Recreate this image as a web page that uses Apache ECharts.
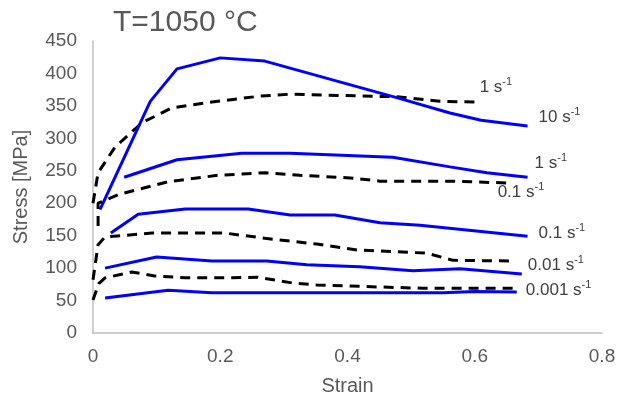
<!DOCTYPE html>
<html>
<head>
<meta charset="utf-8">
<script src="https://cdn.jsdelivr.net/npm/echarts@6/dist/echarts.min.js"></script>
<style>
  html, body { margin: 0; padding: 0; background: #fff; }
  #main { width: 619px; height: 401px; }
</style>
</head>
<body>
<div id="main"></div>
<script>
// 応力-ひずみ曲線 (T=1050 °C)
const chartTitle = 'T=1050 °C';
const xTicks = [0, 0.2, 0.4, 0.6, 0.8];

// 実線 (青)
const solid10 = [[0.011, 190], [0.09, 357], [0.132, 407], [0.2, 424], [0.27, 419], [0.48, 362], [0.561, 339], [0.61, 328], [0.683, 319]];
const solid1 = [[0.049, 240], [0.132, 267], [0.234, 277], [0.31, 277], [0.471, 271], [0.561, 256], [0.619, 247], [0.683, 240]];
const solid01 = [[0.028, 154], [0.071, 183], [0.145, 191], [0.244, 191], [0.31, 182], [0.38, 182], [0.451, 170], [0.514, 166], [0.683, 149]];
const solid001 = [[0.019, 100], [0.1, 117], [0.187, 111], [0.273, 111], [0.336, 105], [0.419, 102], [0.503, 96], [0.577, 99], [0.674, 91]];
const solid0001 = [[0.019, 54], [0.118, 66], [0.187, 62], [0.4, 62], [0.55, 62], [0.6, 64], [0.666, 63]];

// 破線 (黒)
const dashed1 = [[0.0, 200], [0.008, 247], [0.035, 287], [0.077, 324], [0.124, 347], [0.187, 356], [0.262, 365], [0.31, 368], [0.478, 364], [0.545, 357], [0.603, 356]];
const dashed01 = [[0.008, 165], [0.008, 200], [0.042, 214], [0.118, 233], [0.196, 243], [0.27, 247], [0.325, 243], [0.404, 239], [0.451, 234], [0.561, 234], [0.658, 231]];
const dashed001 = [[0.0, 82], [0.008, 136], [0.019, 148], [0.093, 154], [0.207, 154], [0.27, 146], [0.352, 137], [0.415, 128], [0.525, 123], [0.566, 112], [0.663, 111]];
const dashed0001 = [[0.0, 51], [0.009, 76], [0.019, 85], [0.061, 94], [0.097, 88], [0.145, 85], [0.207, 85], [0.259, 86], [0.314, 77], [0.352, 74], [0.446, 71], [0.518, 69], [0.663, 69]];

const chart = echarts.init(document.getElementById('main'));
const font = 'Liberation Sans, Arial, sans-serif';

function endLabel(rate, offset) {
  return {
    show: true,
    formatter: '{n|' + rate + ' s}{sup|-1}',
    offset: offset,
    distance: 0,
    align: 'left',
    rich: {
      n: { fontSize: 17, fontFamily: font, color: '#404040', lineHeight: 21 },
      sup: { fontSize: 11, fontFamily: font, color: '#404040', lineHeight: 21, verticalAlign: 'top' }
    }
  };
}

function blue(data, label) {
  return {
    type: 'line', data: data, symbol: 'none', silent: true,
    lineStyle: { color: '#0000ff', width: 3 },
    endLabel: label || { show: false }
  };
}
function black(data, label) {
  return {
    type: 'line', data: data, symbol: 'none', silent: true,
    lineStyle: { color: '#000', width: 3, type: [10, 7], cap: 'butt' },
    endLabel: label || { show: false }
  };
}

chart.setOption({
  animation: false,
  title: {
    text: chartTitle, left: 108, top: 3,
    textStyle: { fontSize: 30, fontWeight: 'normal', color: '#595959', fontFamily: font }
  },
  grid: { left: 93, right: 17, top: 41, bottom: 68 },
  xAxis: {
    type: 'value', min: 0, max: 0.8, interval: 0.2,
    name: 'Strain', nameLocation: 'middle', nameGap: 43,
    nameTextStyle: { fontSize: 20, color: '#595959', fontFamily: font },
    axisLine: { lineStyle: { color: '#bfbfbf', width: 1.5 } },
    axisTick: { show: false },
    splitLine: { show: false },
    axisLabel: { fontSize: 19, color: '#595959', fontFamily: font, margin: 14,
      formatter: v => String(+v.toFixed(1)) }
  },
  yAxis: {
    type: 'value', min: 0, max: 450, interval: 50,
    name: 'Stress [MPa]', nameLocation: 'middle', nameGap: 62,
    nameTextStyle: { fontSize: 20, color: '#595959', fontFamily: font },
    axisLine: { show: true, lineStyle: { color: '#bfbfbf', width: 1.5 } },
    axisTick: { show: false },
    splitLine: { show: false },
    axisLabel: { fontSize: 19, color: '#595959', fontFamily: font, margin: 16 }
  },
  series: [
    black(dashed1, endLabel('1', [3, -15])),
    blue(solid10, endLabel('10', [11, -9])),
    blue(solid1, endLabel('1', [7, -14])),
    black(dashed01, endLabel('0.1', [-14, 9])),
    blue(solid01, endLabel('0.1', [11, -3])),
    black(dashed001, endLabel('0.01', [13, 4])),
    blue(solid001),
    black(dashed0001, endLabel('0.001', [11, 2])),
    blue(solid0001)
  ]
});
</script>
</body>
</html>
